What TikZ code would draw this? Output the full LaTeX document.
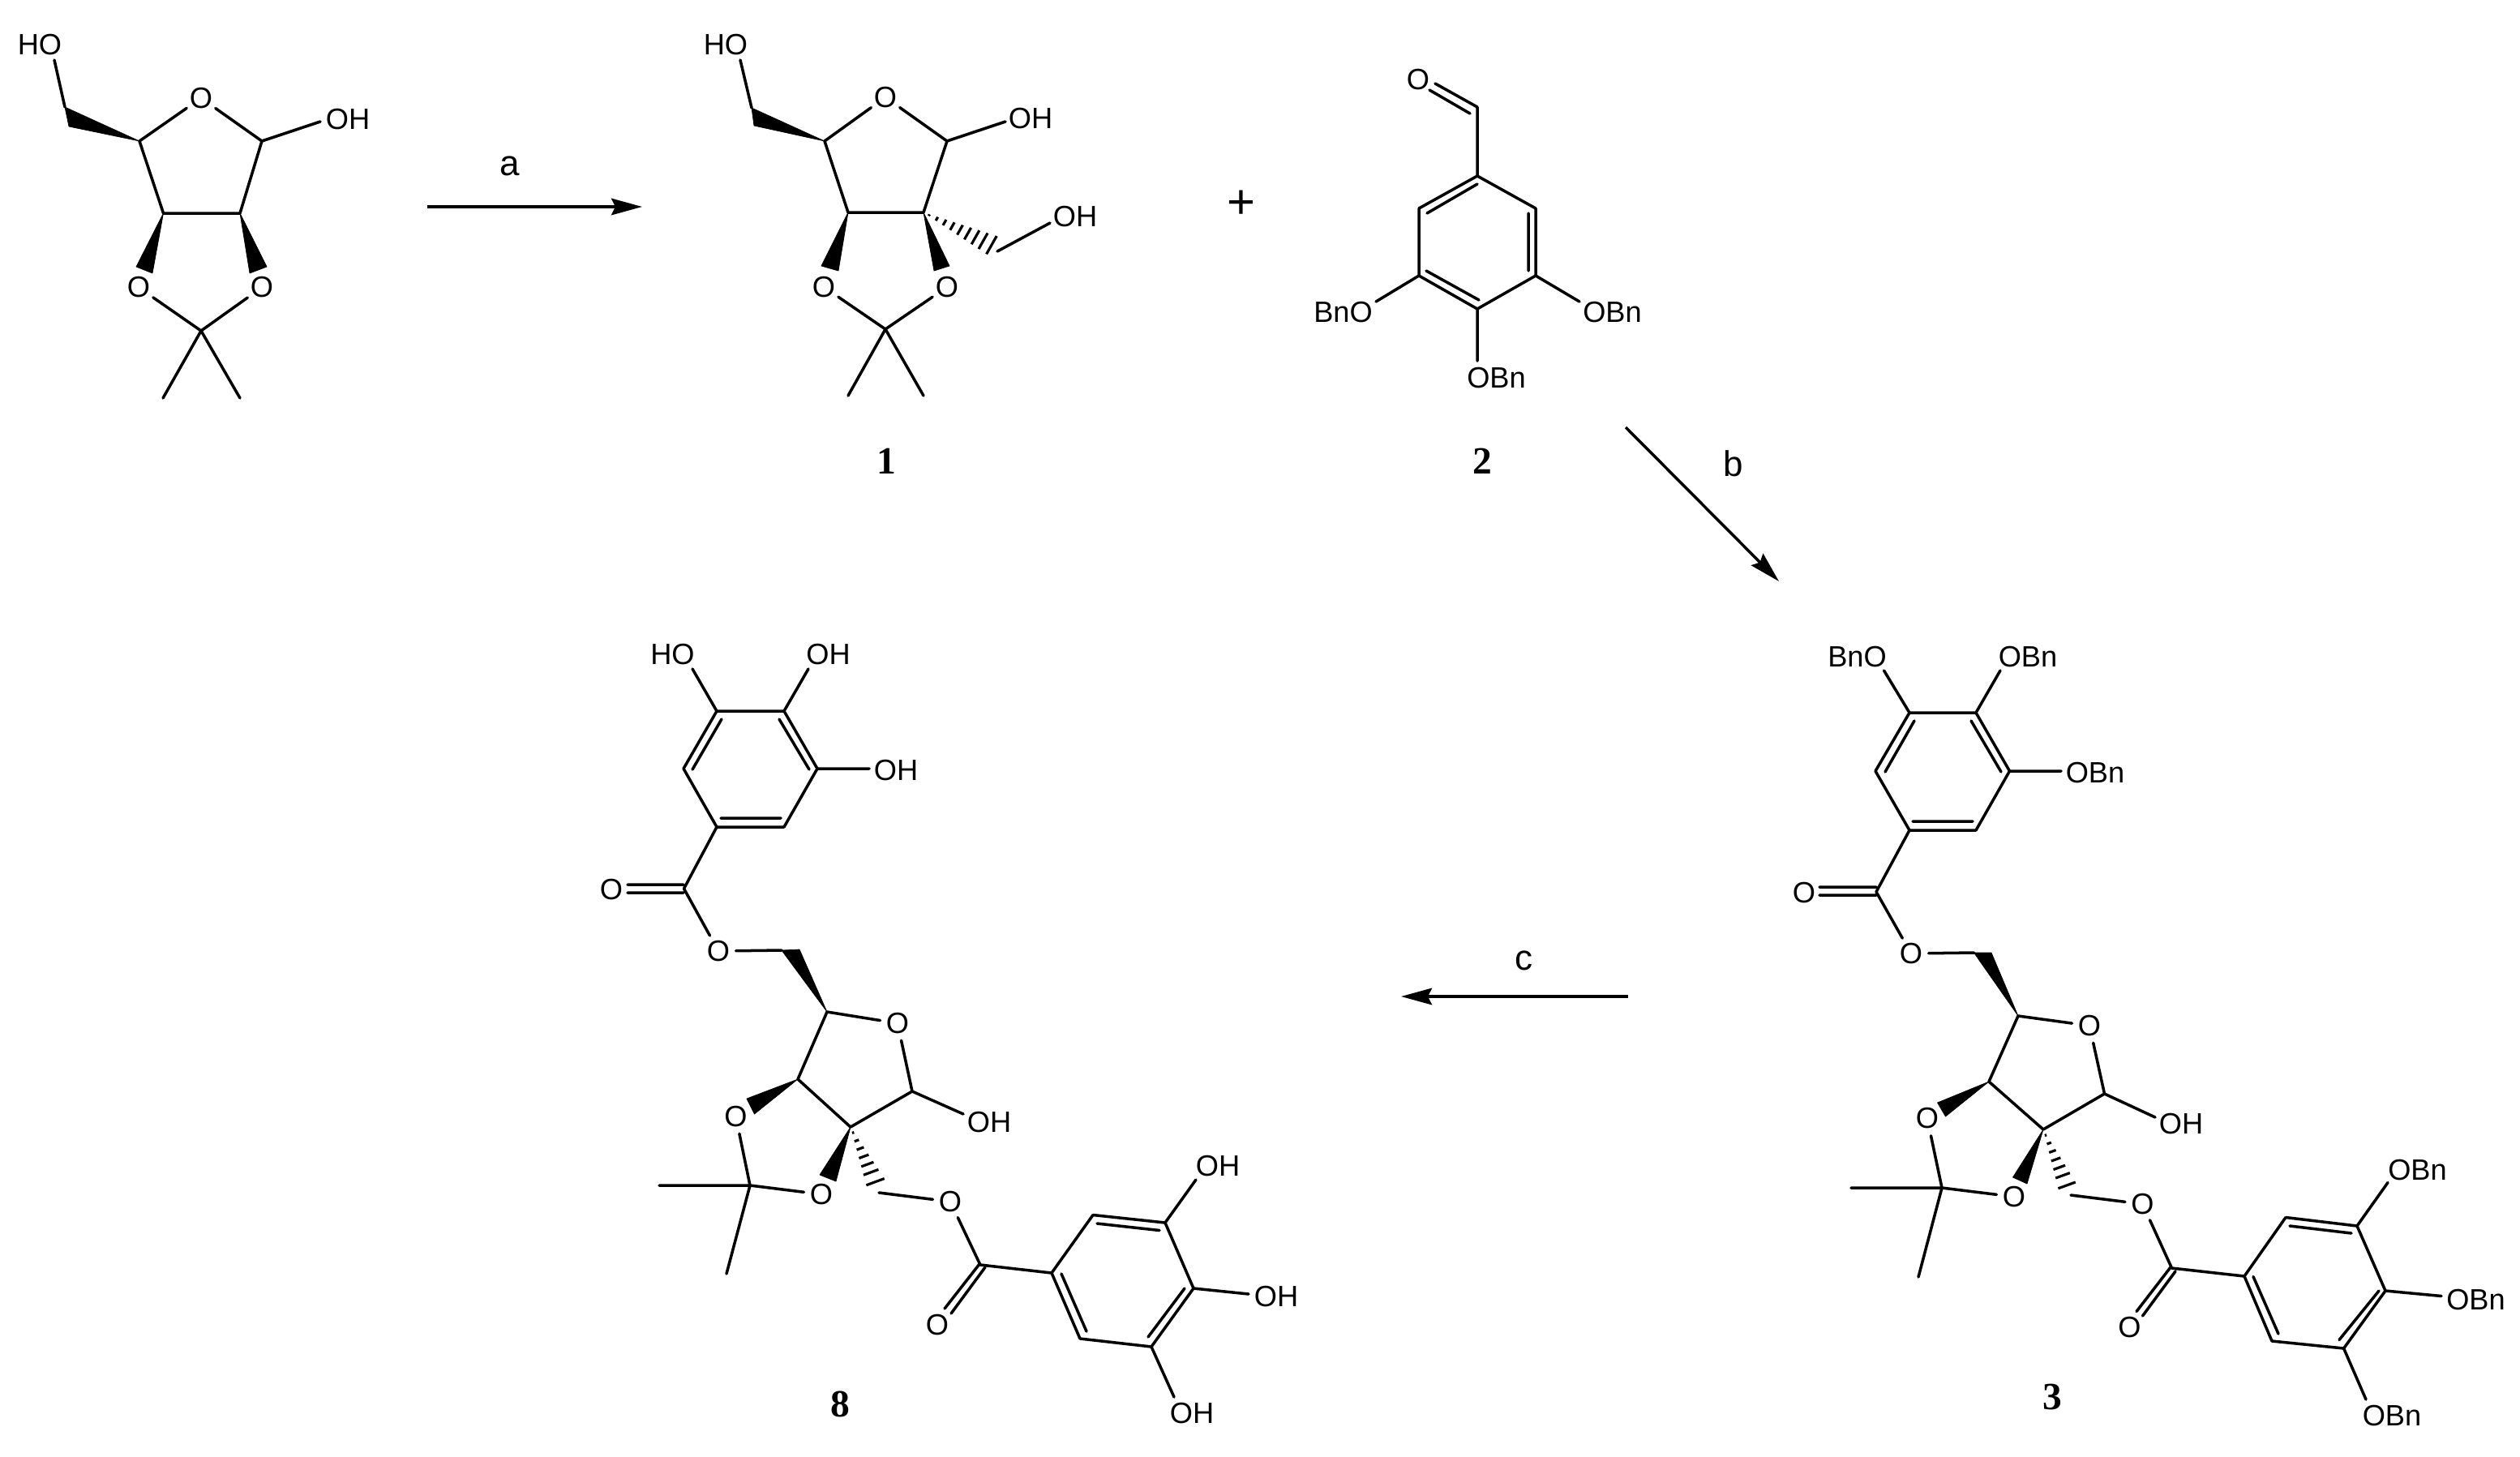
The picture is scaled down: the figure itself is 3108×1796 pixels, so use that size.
\documentclass[tikz,border=0pt]{standalone}
\usepackage{fontspec}
\setmainfont{Liberation Sans}
\newfontfamily\cmpdfont{Liberation Serif}
\usetikzlibrary{arrows.meta,calc}
\tikzset{
  bondline/.style={line width=1pt,line cap=round,line join=round,black},
  rxnarrow/.style={line width=1pt,-{Stealth[length=0.38cm,width=0.205cm,inset=0.05cm]}},
  atomlabel/.style={inner sep=0pt,font=\fontsize{10.3}{12}\selectfont},
  oatom/.style={circle,inner sep=0pt,minimum size=0.42cm,font=\fontsize{10.3}{12}\selectfont},
  cmpd/.style={inner sep=0pt,font=\cmpdfont\bfseries\fontsize{13.5}{15}\selectfont},
  reagent/.style={inner sep=0pt,font=\fontsize{12.5}{14}\selectfont},
  wedgebond/.style={fill=black,draw=black,line width=0.2pt,line join=round},
  hashline/.style={line width=0.9pt}
}
\begin{document}
\begin{tikzpicture}[x=0.01cm,y=-0.01cm]
\useasboundingbox (0,0) rectangle (3108,1796);
% ---------- starting material
\coordinate (Ac) at (80,132); \coordinate (Aw) at (85,156); \coordinate (Ahe) at (67,74);
\coordinate (A4) at (172,174); \coordinate (A1) at (323,174); \coordinate (A3) at (201.5,263); \coordinate (A2) at (296,263);
\coordinate (Aq) at (248,408); \coordinate (Am1) at (201,491); \coordinate (Am2) at (296,491); \coordinate (Aoh) at (395,150);
\coordinate (Aw3a) at (168,329); \coordinate (Aw3b) at (188,337); \coordinate (Aw2a) at (329,329); \coordinate (Aw2b) at (308,337);
\node[atomlabel] (AHO) at (49,55) {HO};
\node[atomlabel] (AOH) at (429,147) {OH};
\node[oatom] (AO) at (248,121) {O};
\node[oatom] (AOl) at (171,354.5) {O};
\node[oatom] (AOr) at (323,354.5) {O};
\draw[bondline] (Ahe) -- (Ac) (A4) -- (AO) (AO) -- (A1) (A1) -- (Aoh) (A4) -- (A3) (A3) -- (A2) (A2) -- (A1)
  (AOl) -- (Aq) (AOr) -- (Aq) (Aq) -- (Am1) (Aq) -- (Am2);
\fill[wedgebond] (A4) -- (Ac) -- (Aw) -- cycle;
\fill[wedgebond] (A3) -- (Aw3a) -- (Aw3b) -- cycle;
\fill[wedgebond] (A2) -- (Aw2a) -- (Aw2b) -- cycle;
% ---------- arrow a
\coordinate (ra1) at (527,255); \coordinate (ra2) at (792,255);
\draw[rxnarrow] (ra1) -- (ra2);
\node[reagent] (la) at (629,205) {a};
% ---------- compound 1
\coordinate (Bc) at (927,133); \coordinate (Bw) at (930,155); \coordinate (Bhe) at (913,74);
\coordinate (B4) at (1017,174); \coordinate (B1) at (1168,174); \coordinate (B3) at (1046,262); \coordinate (B2) at (1139,262);
\coordinate (Bq) at (1092,406); \coordinate (Bm1) at (1046,488); \coordinate (Bm2) at (1139,488); \coordinate (Boh) at (1240,150);
\coordinate (Bw3a) at (1013,328); \coordinate (Bw3b) at (1034,334); \coordinate (Bw2a) at (1171,328); \coordinate (Bw2b) at (1152,334);
\coordinate (Bh1) at (1232,292); \coordinate (Bh2) at (1219,315); \coordinate (Bch) at (1230,310); \coordinate (Boh2) at (1295,275);
\node[atomlabel] (BHO) at (895,55) {HO};
\node[atomlabel] (BOH) at (1271,146) {OH};
\node[atomlabel] (BOH2) at (1326,267) {OH};
\node[oatom] (BO) at (1092,120) {O};
\node[oatom] (BOl) at (1016,354) {O};
\node[oatom] (BOr) at (1168,354) {O};
\draw[bondline] (Bhe) -- (Bc) (B4) -- (BO) (BO) -- (B1) (B1) -- (Boh) (B4) -- (B3) (B3) -- (B2) (B2) -- (B1)
  (BOl) -- (Bq) (BOr) -- (Bq) (Bq) -- (Bm1) (Bq) -- (Bm2) (Bch) -- (Boh2);
\fill[wedgebond] (B4) -- (Bc) -- (Bw) -- cycle;
\fill[wedgebond] (B3) -- (Bw3a) -- (Bw3b) -- cycle;
\fill[wedgebond] (B2) -- (Bw2a) -- (Bw2b) -- cycle;
\foreach \t in {0.08,0.19,0.30,0.41,0.52,0.63,0.74,0.85,0.97}
  \draw[hashline] ($(B2)!\t!(Bh1)$) -- ($(B2)!\t!(Bh2)$);
\node[cmpd] (l1) at (1093,569) {1};
% ---------- plus
\node[inner sep=0pt,font=\fontsize{17}{19}\selectfont] (plus) at (1530.5,252) {+};
% ---------- compound 2
\node[oatom] (CO) at (1749,98) {O};
\coordinate (Cd1) at (1770,103); \coordinate (Cd2) at (1763,111); \coordinate (Cd3) at (1813,140);
\coordinate (Cc) at (1822,132); \coordinate (C1) at (1822,217); \coordinate (C2) at (1750,257); \coordinate (C6) at (1894,257);
\coordinate (C3) at (1750,340); \coordinate (C5) at (1894,340); \coordinate (C4) at (1822,381);
\coordinate (Ci1) at (1760,263); \coordinate (Ci2) at (1822,227); \coordinate (Ci3) at (1885,263); \coordinate (Ci4) at (1885,334);
\coordinate (Ci5) at (1759,334); \coordinate (Ci6) at (1824,370);
\coordinate (Cb3) at (1697,372); \coordinate (Cb5) at (1948,372); \coordinate (Cb4) at (1822,445);
\node[atomlabel] (COBl) at (1656.5,385) {BnO};
\node[atomlabel] (COBr) at (1988.5,385) {OBn};
\node[atomlabel] (COBb) at (1845.5,466) {OBn};
\draw[bondline] (Cd1) -- (Cc) (Cd2) -- (Cd3) (Cc) -- (C1) (C1) -- (C2) (C2) -- (C3) (C3) -- (C4) (C4) -- (C5) (C5) -- (C6) (C6) -- (C1)
  (Ci1) -- (Ci2) (Ci3) -- (Ci4) (Ci5) -- (Ci6) (C3) -- (Cb3) (C5) -- (Cb5) (C4) -- (Cb4);
\node[cmpd] (l2) at (1828,569) {2};
% ---------- arrow b
\coordinate (rb1) at (2005,527); \coordinate (rb2) at (2194,717);
\draw[rxnarrow] (rb1) -- (rb2);
\node[reagent] (lb) at (2137.5,572) {b};
% ---------- arrow c
\coordinate (rc1) at (2008,1229); \coordinate (rc2) at (1728,1229);
\draw[rxnarrow] (rc1) -- (rc2);
\node[reagent] (lc) at (1879,1185) {c};
% ---------- compound 8
\node[atomlabel] (DHO1) at (829.5,807) {HO};
\node[atomlabel] (DOH1) at (1021.5,807) {OH};
\node[atomlabel] (DOH2) at (1105,950) {OH};
\coordinate (Da) at (884,877); \coordinate (Db) at (967,877); \coordinate (Dc) at (1008,948); \coordinate (Dd) at (967,1020); \coordinate (De) at (884,1020); \coordinate (Df) at (843,948);
\coordinate (Dba) at (854,825); \coordinate (Dbb) at (997,825); \coordinate (Dbc) at (1072,948);
\coordinate (Di1) at (890,887); \coordinate (Di2) at (854,949); \coordinate (Di3) at (961,887); \coordinate (Di4) at (998,949); \coordinate (Di5) at (889,1009); \coordinate (Di6) at (963,1009);
\coordinate (Dq) at (843.5,1096); \coordinate (Dd1) at (774,1091); \coordinate (Dd2) at (843,1091); \coordinate (Dd3) at (774,1101); \coordinate (Dd4) at (843,1101);
\node[oatom] (DOc) at (754,1097) {O};
\node[oatom] (DOe) at (886,1173) {O};
\coordinate (Dch) at (964,1172); \coordinate (Dwa) at (986,1171); \coordinate (D4) at (1020,1248);
\node[oatom] (DOr) at (1107,1262) {O};
\coordinate (D1) at (1125,1346); \coordinate (D2) at (1049,1390); \coordinate (D3) at (984,1331); \coordinate (Doh) at (1188,1374);
\node[atomlabel] (DOH3) at (1220,1384) {OH};
\coordinate (Dw3a) at (921,1355); \coordinate (Dw3b) at (930.5,1374);
\node[oatom] (DOl) at (907.5,1377) {O};
\coordinate (DCq) at (925,1462); \coordinate (Dm1) at (813,1462); \coordinate (Dm2) at (896,1571);
\node[oatom] (DOb) at (1013,1473) {O};
\coordinate (Dw2a) at (1011,1449); \coordinate (Dw2b) at (1031,1457);
\coordinate (Dh1) at (1069,1464); \coordinate (Dh2) at (1092,1455.5);
\coordinate (Dch2) at (1084,1471);
\node[oatom] (DOe2) at (1172,1482) {O};
\coordinate (Dq2) at (1209,1560); \coordinate (De1) at (1208,1559); \coordinate (De2) at (1165,1614); \coordinate (De3) at (1215,1563); \coordinate (De4) at (1173,1620);
\node[oatom] (DOc2) at (1156,1634) {O};
\coordinate (Dr1) at (1297,1570); \coordinate (Dr2) at (1348,1498.5); \coordinate (Dr3) at (1437,1508); \coordinate (Dr4) at (1472,1589); \coordinate (Dr5) at (1420,1661); \coordinate (Dr6) at (1332,1651);
\coordinate (Dj1) at (1353,1509); \coordinate (Dj2) at (1430,1517.5); \coordinate (Dj3) at (1461,1589); \coordinate (Dj4) at (1416,1649); \coordinate (Dj5) at (1309,1571); \coordinate (Dj6) at (1340,1642);
\coordinate (Dk3) at (1475,1455); \coordinate (Dk4) at (1540,1596); \coordinate (Dk5) at (1448,1723);
\node[atomlabel] (DOH4) at (1502,1438) {OH};
\node[atomlabel] (DOH5) at (1574,1599) {OH};
\node[atomlabel] (DOH6) at (1470,1743) {OH};
\draw[bondline] (Da) -- (Db) (Db) -- (Dc) (Dc) -- (Dd) (Dd) -- (De) (De) -- (Df) (Df) -- (Da) (Da) -- (Dba) (Db) -- (Dbb) (Dc) -- (Dbc)
  (Di1) -- (Di2) (Di3) -- (Di4) (Di5) -- (Di6) (De) -- (Dq) (Dd1) -- (Dd2) (Dd3) -- (Dd4) (Dq) -- (DOe) (DOe) -- (Dch)
  (D4) -- (DOr) (DOr) -- (D1) (D1) -- (Doh) (D1) -- (D2) (D2) -- (D3) (D3) -- (D4) (DOl) -- (DCq) (DCq) -- (DOb) (DCq) -- (Dm1) (DCq) -- (Dm2)
  (Dch2) -- (DOe2) (DOe2) -- (Dq2) (De1) -- (De2) (De3) -- (De4) (Dq2) -- (Dr1) (Dr1) -- (Dr2) (Dr2) -- (Dr3) (Dr3) -- (Dr4) (Dr4) -- (Dr5) (Dr5) -- (Dr6) (Dr6) -- (Dr1)
  (Dj1) -- (Dj2) (Dj3) -- (Dj4) (Dj5) -- (Dj6) (Dr3) -- (Dk3) (Dr4) -- (Dk4) (Dr5) -- (Dk5);
\fill[wedgebond] (D4) -- (Dch) -- (Dwa) -- cycle;
\fill[wedgebond] (D3) -- (Dw3a) -- (Dw3b) -- cycle;
\fill[wedgebond] (D2) -- (Dw2a) -- (Dw2b) -- cycle;
\foreach \t in {0.10,0.24,0.38,0.52,0.66,0.80,0.97}
  \draw[hashline] ($(D2)!\t!(Dh1)$) -- ($(D2)!\t!(Dh2)$);
\node[cmpd] (l8) at (1036,1732) {8};
% ---------- compound 3
\node[atomlabel] (EB1) at (2290.5,810) {BnO};
\node[atomlabel] (EB2) at (2501,810) {OBn};
\node[atomlabel] (EB3) at (2584,953) {OBn};
\coordinate (Ea) at (2355,879); \coordinate (Eb) at (2437,879); \coordinate (Ec) at (2478.5,951); \coordinate (Ed) at (2437,1024); \coordinate (Ee) at (2355,1024); \coordinate (Ef) at (2313,951);
\coordinate (Eba) at (2323.5,827); \coordinate (Ebb) at (2467,827); \coordinate (Ebc) at (2542,951);
\coordinate (Ei1) at (2361,889); \coordinate (Ei2) at (2325,952); \coordinate (Ei3) at (2431,889); \coordinate (Ei4) at (2468,952); \coordinate (Ei5) at (2359,1013); \coordinate (Ei6) at (2433,1013);
\coordinate (Eq) at (2314,1100); \coordinate (Ed1) at (2244,1094); \coordinate (Ed2) at (2314,1094); \coordinate (Ed3) at (2244,1104); \coordinate (Ed4) at (2314,1104);
\node[oatom] (EOc) at (2225,1101) {O};
\node[oatom] (EOe) at (2357,1176) {O};
\coordinate (Ech) at (2434.5,1175); \coordinate (Ewa) at (2456,1175); \coordinate (E4) at (2489,1253);
\node[oatom] (EOr) at (2577,1265) {O};
\coordinate (E1) at (2595.5,1349); \coordinate (E2) at (2520,1393); \coordinate (E3) at (2453,1334); \coordinate (Eoh) at (2658,1378);
\node[atomlabel] (EOH) at (2690,1386) {OH};
\coordinate (Ew3a) at (2389.5,1360); \coordinate (Ew3b) at (2399.5,1377);
\node[oatom] (EOl) at (2377,1379.5) {O};
\coordinate (ECq) at (2395,1465); \coordinate (Em1) at (2283,1465); \coordinate (Em2) at (2366,1575);
\node[oatom] (EOb) at (2484,1476) {O};
\coordinate (Ew2a) at (2482.5,1452); \coordinate (Ew2b) at (2500,1460);
\coordinate (Eh1) at (2539,1468); \coordinate (Eh2) at (2561,1460);
\coordinate (Ech2) at (2554,1474);
\node[oatom] (EOe2) at (2642.5,1485) {O};
\coordinate (Eq2) at (2678.5,1564); \coordinate (Ee1) at (2677,1563); \coordinate (Ee2) at (2635,1617.5); \coordinate (Ee3) at (2683,1568); \coordinate (Ee4) at (2642.5,1623);
\node[oatom] (EOc2) at (2626.5,1637) {O};
\coordinate (Er1) at (2768,1574); \coordinate (Er2) at (2819,1501.5); \coordinate (Er3) at (2907,1512); \coordinate (Er4) at (2942,1592); \coordinate (Er5) at (2890.6,1663); \coordinate (Er6) at (2802,1654);
\coordinate (Ej1) at (2824,1512); \coordinate (Ej2) at (2900,1521); \coordinate (Ej3) at (2934,1592); \coordinate (Ej4) at (2885,1652.5); \coordinate (Ej5) at (2779,1574.5); \coordinate (Ej6) at (2810,1645);
\coordinate (Ek3) at (2945,1458.5); \coordinate (Ek4) at (3011,1598.5); \coordinate (Ek5) at (2918,1726);
\node[atomlabel] (EB4) at (2981.5,1443) {OBn};
\node[atomlabel] (EB5) at (3053.5,1603) {OBn};
\node[atomlabel] (EB6) at (2950,1746) {OBn};
\draw[bondline] (Ea) -- (Eb) (Eb) -- (Ec) (Ec) -- (Ed) (Ed) -- (Ee) (Ee) -- (Ef) (Ef) -- (Ea) (Ea) -- (Eba) (Eb) -- (Ebb) (Ec) -- (Ebc)
  (Ei1) -- (Ei2) (Ei3) -- (Ei4) (Ei5) -- (Ei6) (Ee) -- (Eq) (Ed1) -- (Ed2) (Ed3) -- (Ed4) (Eq) -- (EOe) (EOe) -- (Ech)
  (E4) -- (EOr) (EOr) -- (E1) (E1) -- (Eoh) (E1) -- (E2) (E2) -- (E3) (E3) -- (E4) (EOl) -- (ECq) (ECq) -- (EOb) (ECq) -- (Em1) (ECq) -- (Em2)
  (Ech2) -- (EOe2) (EOe2) -- (Eq2) (Ee1) -- (Ee2) (Ee3) -- (Ee4) (Eq2) -- (Er1) (Er1) -- (Er2) (Er2) -- (Er3) (Er3) -- (Er4) (Er4) -- (Er5) (Er5) -- (Er6) (Er6) -- (Er1)
  (Ej1) -- (Ej2) (Ej3) -- (Ej4) (Ej5) -- (Ej6) (Er3) -- (Ek3) (Er4) -- (Ek4) (Er5) -- (Ek5);
\fill[wedgebond] (E4) -- (Ech) -- (Ewa) -- cycle;
\fill[wedgebond] (E3) -- (Ew3a) -- (Ew3b) -- cycle;
\fill[wedgebond] (E2) -- (Ew2a) -- (Ew2b) -- cycle;
\foreach \t in {0.10,0.24,0.38,0.52,0.66,0.80,0.97}
  \draw[hashline] ($(E2)!\t!(Eh1)$) -- ($(E2)!\t!(Eh2)$);
\node[cmpd] (l3) at (2531,1723) {3};
\end{tikzpicture}
\end{document}
